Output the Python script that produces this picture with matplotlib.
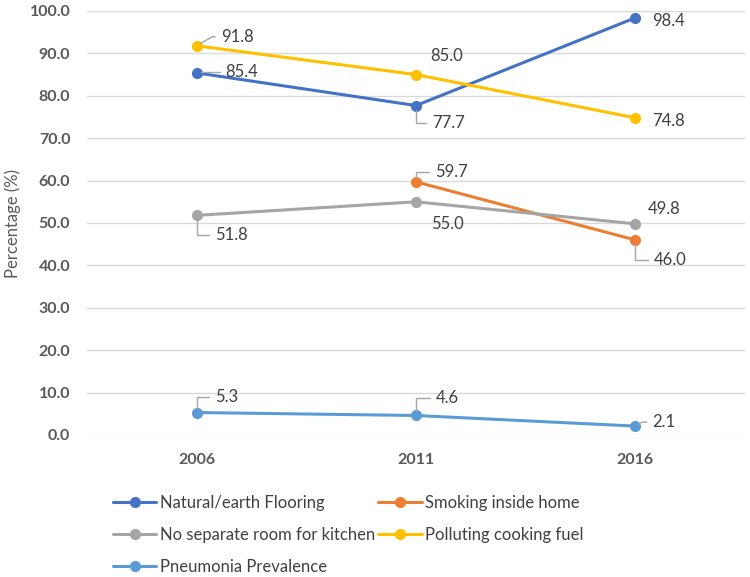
import matplotlib.pyplot as plt
import numpy as np

# data
years = ['2006', '2011', '2016']
natural_flooring = [85.4, 77.7, 98.4]
smoking_home = [np.nan, 59.7, 46.0]
no_kitchen = [51.8, 55.0, 49.8]
polluting_fuel = [91.8, 85.0, 74.8]
pneumonia = [5.3, 4.6, 2.1]

series_names = ['Natural/earth Flooring', 'Smoking inside home',
                'No separate room for kitchen', 'Polluting cooking fuel',
                'Pneumonia Prevalence']
series_values = [natural_flooring, smoking_home, no_kitchen, polluting_fuel, pneumonia]
colors = ['#4472C4', '#ED7D31', '#A5A5A5', '#FFC000', '#5B9BD5']

# label placement: (dx px, dy px, leader, leader angle at point)
label_pos = [
    [(29, 1, True, 45), (16, -17, True, 90), (17, -3, False, 0)],
    [None, (19, 10, True, 90), (18, -20, True, 90)],
    [(18, -20, True, 90), (15, -22, False, 0), (12, 15, False, 0)],
    [(24, 9, True, 30), (14, 19, False, 0), (17, -3, False, 0)],
    [(18, 16, True, 90), (20, 17, True, 90), (17, 4, True, 30)],
]

plt.rcParams['font.family'] = ['Lato', 'DejaVu Sans']
text_col = '#404040'
tick_col = '#595959'

fig = plt.figure(figsize=(7.5, 5.77), dpi=100)
ax = fig.add_axes([87 / 750, 1 - 435 / 577, 658 / 750, 424 / 577])

x = np.arange(len(years))
handles = []
for name, vals, col, pos in zip(series_names, series_values, colors, label_pos):
    h, = ax.plot(x, vals, color=col, lw=2.2, marker='o', ms=7, label=name,
                 solid_capstyle='round', zorder=3)
    handles.append(h)
    for xi, v, p in zip(x, vals, pos):
        if p is None or np.isnan(v):
            continue
        dx, dy, leader, ang = p
        arrow = None
        if leader:
            arrow = dict(arrowstyle='-', color='#A6A6A6', lw=1.0,
                         connectionstyle=f'angle,angleA=0,angleB={ang},rad=0',
                         relpos=(0, 0.5), shrinkA=2, shrinkB=3)
        ax.annotate(f'{v:.1f}', xy=(xi, v), xytext=(dx, dy), textcoords='offset pixels',
                    ha='left', va='center', fontsize=12, color=text_col,
                    arrowprops=arrow, zorder=4)

ax.set_xlim(-0.5, 2.5)
ax.set_ylim(0, 100)
ax.set_xticks(x)
ax.set_xticklabels(years, fontweight='bold', color=tick_col, fontsize=11.5)
ax.set_yticks(np.arange(0, 101, 10))
ax.set_yticklabels([f'{t:.1f}' for t in np.arange(0, 101, 10)],
                   fontweight='bold', color=tick_col, fontsize=11.5)
ax.tick_params(axis='both', length=0)
ax.tick_params(axis='y', pad=12)
ax.tick_params(axis='x', pad=13)
ax.grid(axis='y', color='#D9D9D9', lw=1)
ax.set_axisbelow(True)
for s in ax.spines.values():
    s.set_visible(False)
ax.set_ylabel('Percentage (%)', color=tick_col, fontsize=12)
ax.yaxis.set_label_coords(-66 / 658, 0.5)

# column-major order so rows read like the reference
order = [0, 2, 4, 1, 3]
leg = fig.legend([handles[i] for i in order], [series_names[i] for i in order],
                 ncol=2, loc='upper left', bbox_to_anchor=(98 / 750, 1 - 480 / 577),
                 frameon=False, fontsize=12, handlelength=2.6, handletextpad=0.2,
                 labelspacing=0.95, columnspacing=0.2, labelcolor=text_col)

fig.savefig('out.png', dpi=100)
